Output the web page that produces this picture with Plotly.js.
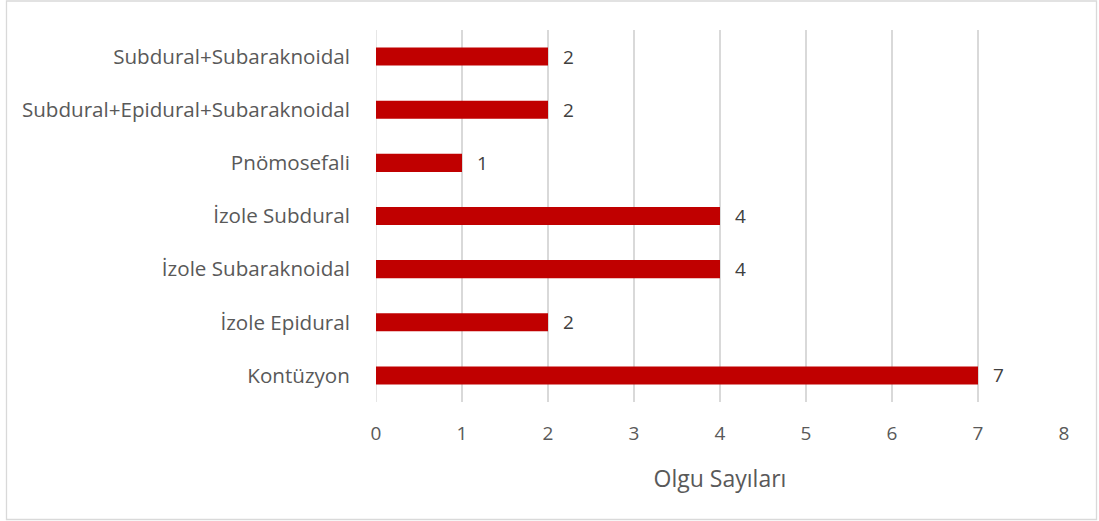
<!DOCTYPE html>
<html>
<head>
<meta charset="utf-8">
<script src="https://cdn.plot.ly/plotly-3.0.1.min.js"></script>
<style>html,body{margin:0;padding:0;background:#fff;}#chart{width:1099px;height:521px;}</style>
</head>
<body>
<div id="chart"></div>
<script>
const categories = ["Kontüzyon", "İzole Epidural", "İzole Subaraknoidal", "İzole Subdural", "Pnömosefali", "Subdural+Epidural+Subaraknoidal", "Subdural+Subaraknoidal"];
const values = [7, 2, 4, 4, 1, 2, 2];
const xTicks = [0, 1, 2, 3, 4, 5, 6, 7, 8];
const xTitle = "Olgu Sayıları";

const W = 1099, H = 521, L = 376, R = 35, T = 30, B = 119;
const pw = W - L - R, ph = H - T - B;
const px = v => (v - L) / pw;
const py = v => (H - B - v) / ph;
const FONT = 'Open Sans';

const trace = {
  type: 'bar',
  orientation: 'h',
  y: categories,
  x: values,
  width: 0.34,
  marker: {color: '#C00000'},
  hoverinfo: 'none'
};

const annotations = values.map((v, i) => ({
  x: v, y: categories[i], xref: 'x', yref: 'y',
  text: String(v), showarrow: false,
  xanchor: 'left', yanchor: 'middle', xshift: 13,
  font: {family: FONT, size: 19, color: '#404040'}
}));

const layout = {
  width: W, height: H,
  margin: {l: L, r: R, t: T, b: B, pad: 0},
  paper_bgcolor: '#fff', plot_bgcolor: '#fff',
  showlegend: false,
  font: {family: FONT, size: 19, color: '#595959'},
  xaxis: {
    range: [0, 8],
    tickvals: xTicks,
    ticktext: xTicks.map(String),
    showgrid: true, gridcolor: '#d9d9d9', gridwidth: 1.3,
    zeroline: false, showline: false,
    ticks: 'outside', ticklen: 14, tickcolor: 'rgba(0,0,0,0)',
    tickfont: {family: FONT, size: 19, color: '#595959'},
    title: {text: xTitle, font: {family: FONT, size: 23, color: '#595959'}, standoff: 26},
    fixedrange: true
  },
  yaxis: {
    type: 'category',
    categoryorder: 'array', categoryarray: categories,
    range: [-0.5, 6.5],
    showgrid: false, zeroline: false, showline: false,
    ticks: 'outside', ticklen: 21, tickcolor: 'rgba(0,0,0,0)',
    tickfont: {family: FONT, size: 20.6, color: '#595959'},
    fixedrange: true
  },
  annotations: annotations,
  shapes: [
    {type: 'line', xref: 'x', yref: 'paper', x0: 0, x1: 0, y0: 0, y1: 1, line: {color: '#d9d9d9', width: 1.3}, layer: 'below'},
    {type: 'rect', xref: 'paper', yref: 'paper', x0: px(6.5), x1: px(1096.5), y0: py(519.5), y1: py(1), line: {color: '#d9d9d9', width: 1.3}, fillcolor: 'rgba(0,0,0,0)'}
  ]
};

Plotly.newPlot('chart', [trace], layout, {displayModeBar: false, staticPlot: true});
</script>
</body>
</html>
